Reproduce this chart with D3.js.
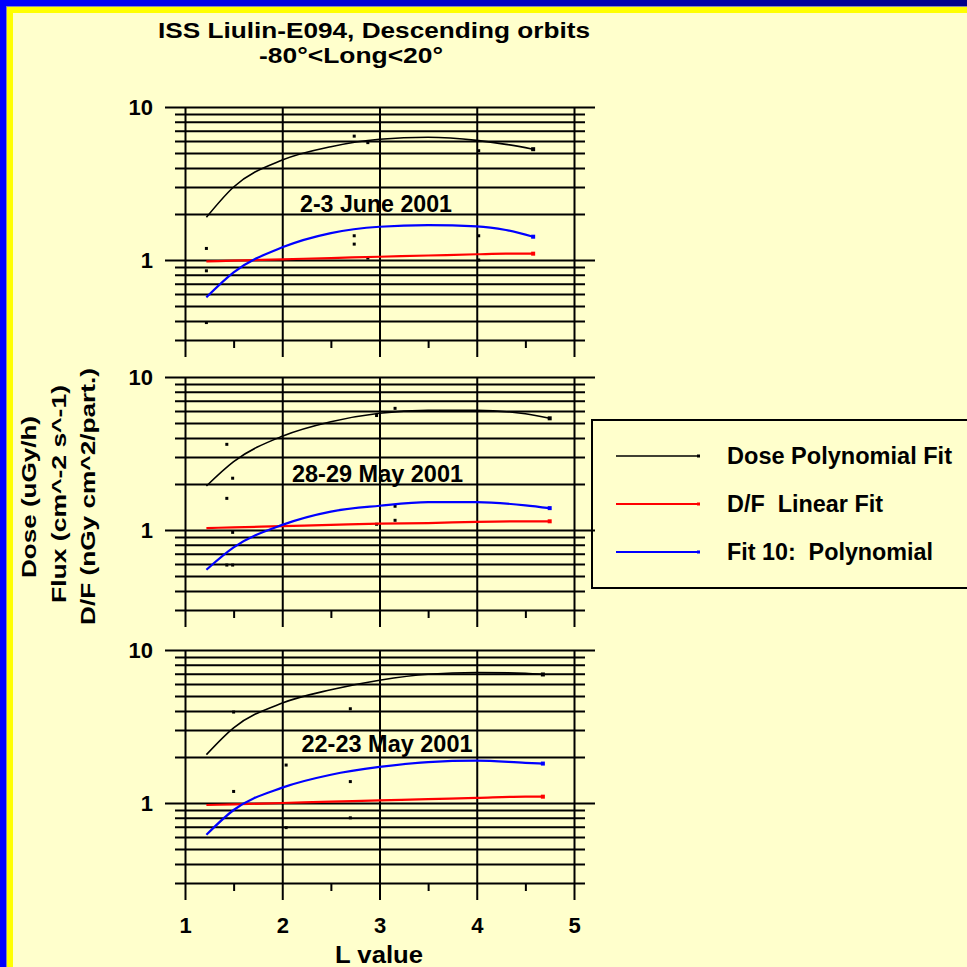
<!DOCTYPE html>
<html>
<head>
<meta charset="utf-8">
<script src="https://cdn.jsdelivr.net/npm/d3@7"></script>
<style>
  html, body { margin: 0; padding: 0; background: #FFFFCC; }
  svg { display: block; }
  text { font-family: "Liberation Sans", Arial, sans-serif; font-weight: bold; fill: #000; }
</style>
</head>
<body>
<svg id="chart" width="967" height="967"></svg>
<script>
// ---------------- DATA ----------------
const titleLines = ["ISS Liulin-E094, Descending orbits", "-80°<Long<20°"];
const panelLabels = ["2-3 June 2001", "28-29 May 2001", "22-23 May 2001"];
const xTicks = [1, 2, 3, 4, 5];
const xMinorTicks = [1.5, 2.5, 3.5, 4.5];
const yMajorTicks = [1, 10];
const yMinorTicks = [0.3, 0.4, 0.5, 0.6, 0.7, 0.8, 0.9, 2, 3, 4, 5, 6, 7, 8, 9];
const xLabel = "L value";
const yLabelLines = ["Dose (uGy/h)", "Flux (cm^-2 s^-1)", "D/F (nGy cm^2/part.)"];
const legendLabels = ["Dose Polynomial Fit", "D/F  Linear Fit", "Fit 10:  Polynomial"];
const seriesColors = ["#000000", "#FF0000", "#0000FF"];

// Panel 1: 2-3 June 2001
const p1L    = [1.22, 1.5, 2.0, 2.5, 3.0, 3.5, 4.0, 4.3, 4.58];
const p1Dose = [1.90, 3.00, 4.50, 5.50, 6.15, 6.34, 6.05, 5.70, 5.30];
const p1Flux = [0.57, 0.83, 1.21, 1.50, 1.65, 1.69, 1.66, 1.57, 1.42];
const p1DF   = [0.98, 0.99, 1.01, 1.03, 1.05, 1.07, 1.09, 1.10, 1.10];
const p1PtsL = [1.22, 1.22, 1.22, 2.74, 2.74, 2.74, 2.88, 2.88, 4.02, 4.02, 4.02];
const p1PtsV = [1.19, 0.85, 0.39, 6.45, 1.44, 1.27, 5.85, 1.03, 5.18, 1.44, 1.00];

// Panel 2: 28-29 May 2001
const p2L    = [1.22, 1.5, 2.0, 2.5, 3.0, 3.5, 4.0, 4.5, 4.75];
const p2Dose = [1.94, 2.80, 4.10, 5.10, 5.80, 6.05, 6.05, 5.75, 5.37];
const p2Flux = [0.55, 0.77, 1.08, 1.32, 1.44, 1.52, 1.52, 1.45, 1.39];
const p2DF   = [1.03, 1.04, 1.06, 1.08, 1.10, 1.11, 1.13, 1.14, 1.14];
const p2PtsL = [1.43, 1.49, 1.43, 1.49, 1.43, 1.49, 3.16, 3.16, 3.16, 2.97, 2.97];
const p2PtsV = [3.63, 2.18, 1.61, 0.965, 0.59, 0.59, 6.24, 1.43, 1.157, 5.60, 1.09];

// Panel 3: 22-23 May 2001
const p3L    = [1.22, 1.5, 2.0, 2.5, 3.0, 3.5, 4.0, 4.5, 4.68];
const p3Dose = [2.07, 3.10, 4.50, 5.50, 6.35, 6.95, 7.12, 7.05, 6.92];
const p3Flux = [0.62, 0.90, 1.26, 1.53, 1.72, 1.85, 1.89, 1.83, 1.81];
const p3DF   = [0.97, 0.98, 1.00, 1.02, 1.04, 1.06, 1.08, 1.10, 1.10];
const p3PtsL = [1.50, 1.50, 2.04, 2.04, 2.70, 2.70, 2.70];
const p3PtsV = [3.93, 1.19, 1.77, 0.69, 4.13, 1.38, 0.80];

const panels = [
  { L: p1L, dose: p1Dose, flux: p1Flux, df: p1DF, ptsL: p1PtsL, ptsV: p1PtsV },
  { L: p2L, dose: p2Dose, flux: p2Flux, df: p2DF, ptsL: p2PtsL, ptsV: p2PtsV },
  { L: p3L, dose: p3Dose, flux: p3Flux, df: p3DF, ptsL: p3PtsL, ptsV: p3PtsV }
];

// ---------------- LAYOUT ----------------
const W = 967, H = 967;
const svg = d3.select("#chart");
const FONT = "Liberation Sans, Arial, sans-serif";

// background & frame
const defs = svg.append("defs");
const grad = defs.append("linearGradient").attr("id", "topGrad").attr("x1", "0").attr("x2", "1");
grad.append("stop").attr("offset", "0").attr("stop-color", "#0000FF");
grad.append("stop").attr("offset", "1").attr("stop-color", "#000088");
svg.append("rect").attr("width", W).attr("height", H).attr("fill", "#FFFFCC");
svg.append("rect").attr("x", 0).attr("y", 0).attr("width", W).attr("height", 6).attr("fill", "url(#topGrad)");
svg.append("rect").attr("x", 0).attr("y", 0).attr("width", 6).attr("height", H).attr("fill", "#0000FF");
svg.append("rect").attr("x", 6).attr("y", 6).attr("width", W).attr("height", 1).attr("fill", "#8888AA");
svg.append("rect").attr("x", 6).attr("y", 6).attr("width", 1).attr("height", H).attr("fill", "#8888AA");
svg.append("rect").attr("x", 7).attr("y", 7).attr("width", W).attr("height", 6).attr("fill", "#FFFF00");
svg.append("rect").attr("x", 7).attr("y", 7).attr("width", 6).attr("height", H).attr("fill", "#FFFF00");

// title
svg.append("text").attr("x", 374).attr("y", 38).attr("text-anchor", "middle")
  .attr("font-size", 22).attr("textLength", 432).attr("lengthAdjust", "spacingAndGlyphs")
  .text(titleLines[0]);
svg.append("text").attr("x", 351).attr("y", 63).attr("text-anchor", "middle")
  .attr("font-size", 22).attr("textLength", 184).attr("lengthAdjust", "spacingAndGlyphs")
  .text(titleLines[1]);

const x = d3.scaleLinear().domain([1, 5]).range([185, 574]);
const panelTops = [107, 377, 650];
const panelHeight = 233;
const labelWidths = [152, 171, 171];
const labelX = [376, 377.5, 387];
const labelY = [212, 482, 752];

panels.forEach((p, i) => {
  const top = panelTops[i];
  const bottom = top + panelHeight;
  const y = d3.scaleLog().domain([0.3, 10]).range([bottom, top]);
  const g = svg.append("g");

  // minor horizontal grid
  g.append("g").attr("transform", "translate(175,0)")
    .call(d3.axisLeft(y).tickValues(yMinorTicks).tickSizeInner(-410).tickSizeOuter(0).tickFormat(""))
    .call(s => s.select(".domain").remove())
    .call(s => s.selectAll("line").attr("stroke", "#000").attr("stroke-width", 2));

  // major horizontal grid with labels
  g.append("g").attr("transform", "translate(165,0)")
    .call(d3.axisLeft(y).tickValues(yMajorTicks).tickSizeInner(-430).tickSizeOuter(0).tickPadding(12).tickFormat(d3.format("d")))
    .call(s => s.select(".domain").remove())
    .call(s => s.selectAll("line").attr("stroke", "#000").attr("stroke-width", 2))
    .call(s => s.selectAll("text").attr("font-size", 22).attr("font-family", FONT).attr("font-weight", "bold").attr("fill", "#000"));

  // vertical grid lines (major x)
  const xAxisG = g.append("g").attr("transform", `translate(0,${bottom + 17})`)
    .call(d3.axisBottom(x).tickValues(xTicks).tickSizeInner(-(panelHeight + 17)).tickSizeOuter(0).tickPadding(17)
      .tickFormat(i === 2 ? d3.format("d") : ""))
    .call(s => s.select(".domain").remove())
    .call(s => s.selectAll("line").attr("stroke", "#000").attr("stroke-width", 2));
  xAxisG.selectAll("text").attr("font-size", 22).attr("font-family", FONT).attr("font-weight", "bold").attr("fill", "#000");

  // minor x ticks
  g.append("g").attr("transform", `translate(0,${bottom})`)
    .call(d3.axisBottom(x).tickValues(xMinorTicks).tickSizeInner(8).tickSizeOuter(0).tickFormat(""))
    .call(s => s.select(".domain").remove())
    .call(s => s.selectAll("line").attr("stroke", "#000").attr("stroke-width", 2));

  // measured points
  g.selectAll("rect.pt").data(p.ptsL.map((l, k) => [l, p.ptsV[k]])).enter().append("rect")
    .attr("class", "pt")
    .attr("x", d => x(d[0]) - 1.5).attr("y", d => y(d[1]) - 1.5)
    .attr("width", 3).attr("height", 3).attr("fill", "#000");

  // fit curves
  const series = [p.dose, p.df, p.flux];
  const widths = [1.6, 2.2, 2.2];
  series.forEach((vals, si) => {
    const data = p.L.map((l, k) => [l, vals[k]]);
    const line = d3.line().x(d => x(d[0])).y(d => y(d[1])).curve(d3.curveMonotoneX);
    g.append("path").attr("d", line(data)).attr("fill", "none")
      .attr("stroke", seriesColors[si]).attr("stroke-width", widths[si]);
    const last = data[data.length - 1];
    g.append("rect").attr("x", x(last[0]) - 2).attr("y", y(last[1]) - 2)
      .attr("width", 4).attr("height", 4).attr("fill", seriesColors[si]);
  });

  // panel label
  svg.append("text").attr("x", labelX[i]).attr("y", labelY[i]).attr("text-anchor", "middle")
    .attr("font-size", 23).attr("textLength", labelWidths[i]).attr("lengthAdjust", "spacingAndGlyphs")
    .text(panelLabels[i]);
});

// x axis label
svg.append("text").attr("x", 379).attr("y", 963).attr("text-anchor", "middle")
  .attr("font-size", 24).attr("textLength", 88).attr("lengthAdjust", "spacingAndGlyphs")
  .text(xLabel);

// y axis label (three rotated lines)
const yLabBaseX = [36, 66, 95];
const yLabCenterY = [497, 494, 496.5];
const yLabLen = [162, 218, 257];
yLabelLines.forEach((t, k) => {
  svg.append("text")
    .attr("transform", `translate(${yLabBaseX[k]},${yLabCenterY[k]}) rotate(-90)`)
    .attr("text-anchor", "middle").attr("font-size", 21)
    .attr("textLength", yLabLen[k]).attr("lengthAdjust", "spacingAndGlyphs")
    .text(t);
});

// legend
const lg = svg.append("g");
lg.append("rect").attr("x", 592).attr("y", 420).attr("width", 400).attr("height", 168)
  .attr("fill", "none").attr("stroke", "#000").attr("stroke-width", 2);
const legendLineY = [456, 504, 552];
const legendTextLen = [225, 156, 206];
legendLabels.forEach((t, k) => {
  lg.append("line").attr("x1", 616).attr("x2", 699).attr("y1", legendLineY[k]).attr("y2", legendLineY[k])
    .attr("stroke", seriesColors[k]).attr("stroke-width", k === 0 ? 1.6 : 2.2);
  lg.append("rect").attr("x", 697).attr("y", legendLineY[k] - 1.5).attr("width", 3).attr("height", 3)
    .attr("fill", seriesColors[k]);
  lg.append("text").attr("x", 727).attr("y", legendLineY[k] + 8).attr("font-size", 23)
    .style("white-space", "pre")
    .attr("textLength", legendTextLen[k]).attr("lengthAdjust", "spacingAndGlyphs")
    .text(t);
});
</script>
</body>
</html>
